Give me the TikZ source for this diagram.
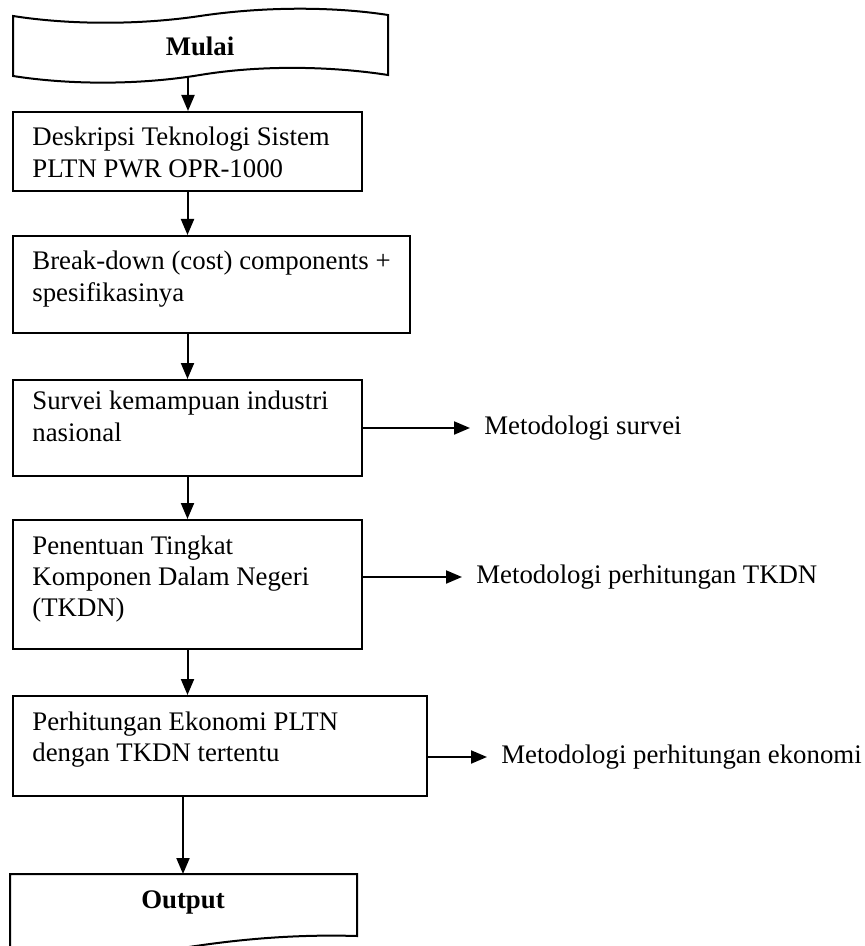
\documentclass[tikz,border=0pt]{standalone}
\usepackage{fontspec}
\setmainfont{Liberation Serif}
\usetikzlibrary{arrows.meta,fit}
\tikzset{
  stepbox/.style={draw, line width=1pt, inner sep=0pt},
  steptext/.style={anchor=north west, align=left, inner sep=0pt},
  arr/.style={line width=1pt, -{Triangle[length=8pt,width=6.5pt]}},
  sidetext/.style={anchor=west, inner xsep=7pt}
}
\begin{document}
\begin{tikzpicture}[x=0.5pt,y=-0.5pt,font=\fontsize{13.4}{15.6}\selectfont]
\clip (0,0) rectangle (864,946);
\draw[line width=1pt] (13,16) .. controls (70,25) and (140,25) .. (200,16) .. controls (260,7) and (330,6) .. (388,15) -- (388,75) .. controls (330,66) and (260,65) .. (200,75) .. controls (140,85) and (70,85) .. (13,76) -- cycle;
\node (mulai) at (200,46) {\textbf{Mulai}};
\coordinate (mulaiout) at (188,77);
\node[stepbox, fit={(13,112) (362,191)}] (deskripsi) {};
\node[steptext] at ([shift={(20,16)}]deskripsi.north west) {Deskripsi Teknologi Sistem\\PLTN PWR OPR-1000};
\node[stepbox, fit={(13,236) (410,333)}] (breakdown) {};
\node[steptext] at ([shift={(20,16)}]breakdown.north west) {Break-down (cost) components +\\spesifikasinya};
\node[stepbox, fit={(13,380) (362,476)}] (survei) {};
\node[steptext] at ([shift={(20,12)}]survei.north west) {Survei kemampuan industri\\nasional};
\node[stepbox, fit={(13,520) (362,649)}] (tkdn) {};
\node[steptext] at ([shift={(20,16)}]tkdn.north west) {Penentuan Tingkat\\Komponen Dalam Negeri\\(TKDN)};
\node[stepbox, fit={(13,696) (427,796)}] (ekonomi) {};
\node[steptext] at ([shift={(20,16)}]ekonomi.north west) {Perhitungan Ekonomi PLTN\\dengan TKDN tertentu};
\draw[line width=1pt] (10,960) -- (10,874) -- (357,874) -- (357,936) .. controls (290,934) and (230,940) .. (170,950);
\node (output) at (183,902) {\textbf{Output}};
\coordinate (outputtop) at (183,874);
\node[sidetext] (msurvei) at (470,428) {Metodologi survei};
\node[sidetext] (mtkdn) at (462,577) {Metodologi perhitungan TKDN};
\node[sidetext] (mekonomi) at (487,757) {Metodologi perhitungan ekonomi};
\draw[arr] (mulaiout) -- (deskripsi.north -| mulaiout);
\draw[arr] (deskripsi.south) -- (breakdown.north -| deskripsi.south);
\draw[arr] (breakdown.south -| deskripsi.south) -- (survei.north);
\draw[arr] (survei.south) -- (tkdn.north);
\draw[arr] (tkdn.south) -- (ekonomi.north -| tkdn.south);
\draw[arr] (ekonomi.south -| outputtop) -- (outputtop);
\draw[arr] (survei.east |- msurvei.west) -- (msurvei.west);
\draw[arr] (tkdn.east |- mtkdn.west) -- (mtkdn.west);
\draw[arr] (ekonomi.east |- mekonomi.west) -- (mekonomi.west);
\end{tikzpicture}
\end{document}
